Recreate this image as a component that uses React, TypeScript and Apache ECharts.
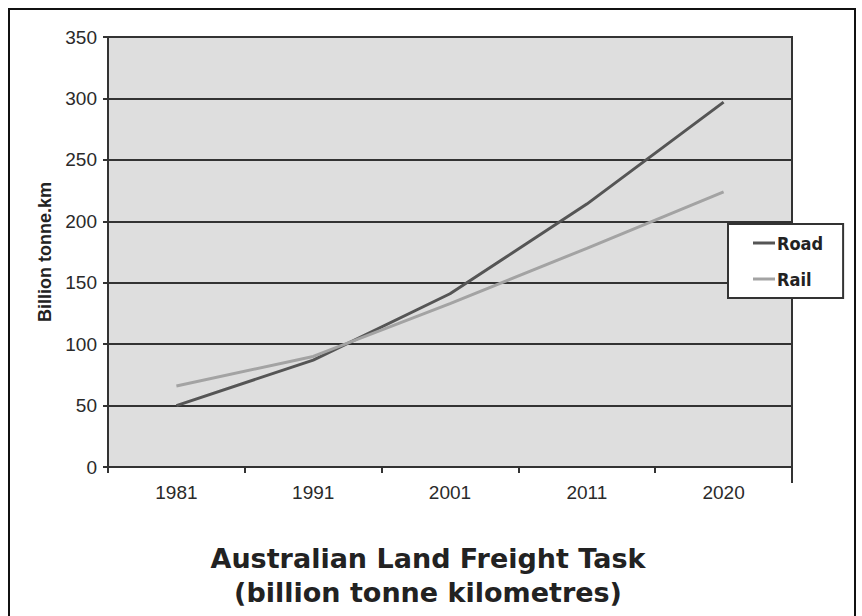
import React, { useEffect, useRef } from "react";
import * as echarts from "echarts";

// Freight task by year, billion tonne-kilometres
const years = ["1981", "1991", "2001", "2011", "2020"];
const roadValues = [50, 87, 141, 214, 297];
const railValues = [66, 90, 133, 178, 224];
const seriesNames = ["Road", "Rail"];
const yAxisName = "Billion tonne.km";
const titleLines = ["Australian Land Freight Task", "(billion tonne kilometres)"];

const W = 862;
const H = 616;
const GRID = { left: 108, right: 70, top: 37, bottom: 149 };

export default function App() {
  const ref = useRef<HTMLDivElement>(null);

  useEffect(() => {
    if (!ref.current) return;
    const chart = echarts.init(ref.current, null, { renderer: "svg" });
    const axisDark = "#333333";
    const plotRight = W - GRID.right;
    const plotBottom = H - GRID.bottom;
    const titleFont = {
      fontFamily: "DejaVu Sans",
      fontWeight: "bold",
      fontSize: 27,
      lineHeight: 28,
      fill: "#222222",
      align: "center",
      verticalAlign: "middle",
    };

    chart.setOption({
      animation: false,
      backgroundColor: "#ffffff",
      grid: {
        left: GRID.left,
        right: GRID.right,
        top: GRID.top,
        bottom: GRID.bottom,
        show: true,
        backgroundColor: "#dedede",
        borderColor: axisDark,
        borderWidth: 2,
        outerBoundsMode: "none",
      },
      legend: {
        orient: "vertical",
        left: 728,
        top: 224,
        data: seriesNames,
        icon: "rect",
        backgroundColor: "#ffffff",
        borderColor: axisDark,
        borderWidth: 2,
        borderRadius: 0,
        padding: [10, 20, 10, 25],
        itemGap: 18,
        itemWidth: 22,
        itemHeight: 3,
        textStyle: {
          fontFamily: "DejaVu Sans Condensed",
          fontWeight: "bold",
          fontSize: 18,
          color: "#222222",
          padding: [0, 0, 0, -3],
        },
      },
      xAxis: {
        type: "category",
        data: years,
        boundaryGap: true,
        axisLine: { lineStyle: { color: axisDark, width: 2 } },
        axisTick: { show: true, length: 6, lineStyle: { color: axisDark, width: 2 } },
        axisLabel: {
          margin: 16,
          fontFamily: "Liberation Sans",
          fontSize: 19,
          color: "#2a2a2a",
        },
        splitLine: { show: false },
      },
      yAxis: {
        type: "value",
        min: 0,
        max: 350,
        interval: 50,
        name: yAxisName,
        nameLocation: "middle",
        nameRotate: 90,
        nameGap: 54,
        nameTextStyle: {
          fontFamily: "Liberation Sans",
          fontWeight: "bold",
          fontSize: 18,
          color: "#222222",
        },
        axisLine: { show: true, lineStyle: { color: axisDark, width: 2 } },
        axisTick: { show: true, length: 5, lineStyle: { color: axisDark, width: 2 } },
        axisLabel: {
          margin: 11,
          fontFamily: "Liberation Sans",
          fontSize: 19,
          color: "#2a2a2a",
        },
        splitLine: { show: true, lineStyle: { color: axisDark, width: 2 } },
      },
      series: [
        {
          name: seriesNames[0],
          type: "line",
          data: roadValues,
          symbol: "none",
          color: "#555555",
          lineStyle: { color: "#555555", width: 3 },
        },
        {
          name: seriesNames[1],
          type: "line",
          data: railValues,
          symbol: "none",
          color: "#a3a3a3",
          lineStyle: { color: "#a3a3a3", width: 3 },
        },
      ],
      graphic: [
        {
          type: "rect",
          silent: true,
          shape: { x: 9, y: 9, width: 846, height: 640 },
          style: { fill: "none", stroke: "#111111", lineWidth: 2 },
        },
        {
          type: "line",
          silent: true,
          shape: { x1: plotRight, y1: plotBottom, x2: plotRight, y2: plotBottom + 16 },
          style: { stroke: axisDark, lineWidth: 2 },
        },
        {
          type: "text",
          silent: true,
          x: 428,
          y: 558,
          style: { ...titleFont, text: titleLines[0] },
        },
        {
          type: "text",
          silent: true,
          x: 428,
          y: 592,
          style: { ...titleFont, text: titleLines[1] },
        },
      ],
    });

    return () => chart.dispose();
  }, []);

  return (
    <div
      ref={ref}
      style={{ position: "fixed", left: 0, top: 0, width: W, height: H }}
    />
  );
}
